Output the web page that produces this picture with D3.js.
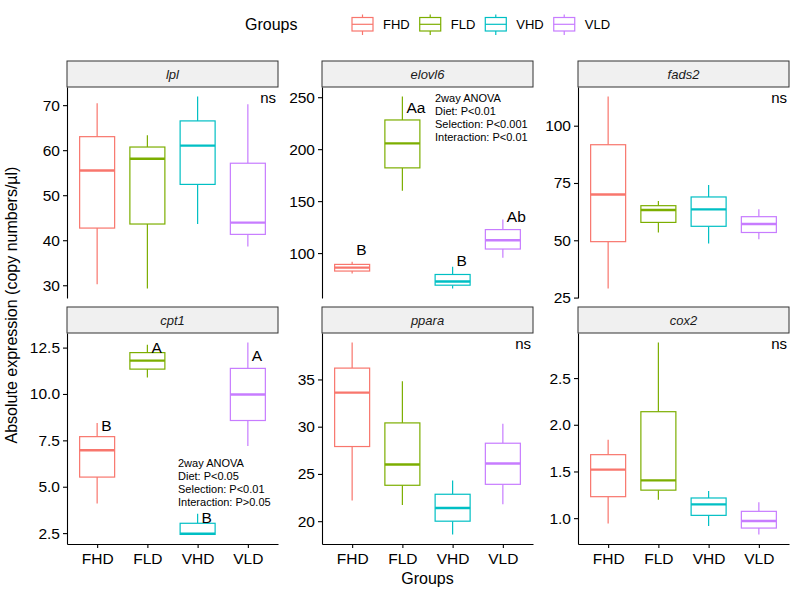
<!DOCTYPE html>
<html>
<head>
<meta charset="utf-8">
<script src="https://cdn.jsdelivr.net/npm/d3@7"></script>
<style>
  body { margin: 0; background: #fff; }
  text { font-family: "Liberation Sans", Arial, sans-serif; fill: #000; }
</style>
</head>
<body>
<script>
// groups + colours (ggplot default hue)
const groups = ["FHD", "FLD", "VHD", "VLD"];
const groupColors = ["#F8766D", "#7CAE00", "#00BFC4", "#C77CFF"];
const genes = ["lpl", "elovl6", "fads2", "cpt1", "ppara", "cox2"];

// per group: [lower whisker, q1, median, q3, upper whisker]
const lplStats    = [[30.2, 42.7, 55.5, 63.0, 70.4], [29.3, 43.6, 58.1, 60.7, 63.3], [43.6, 52.4, 61.0, 66.5, 71.9], [38.6, 41.3, 43.9, 57.1, 70.2]];
const elovl6Stats = [[80.4, 82.7, 86.0, 89.1, 91.7], [159.9, 182.0, 205.6, 228.1, 250.6], [66.0, 69.1, 72.7, 79.4, 86.9], [95.6, 103.9, 112.3, 122.6, 132.2]];
const fads2Stats  = [[29.0, 49.4, 70.0, 91.7, 112.7], [53.4, 57.8, 63.2, 65.1, 67.1], [48.6, 56.1, 63.5, 68.9, 74.1], [50.4, 53.4, 57.1, 60.3, 63.5]];
const cpt1Stats   = [[4.09, 5.52, 6.97, 7.70, 8.43], [10.89, 11.34, 11.80, 12.23, 12.66], [2.43, 2.43, 2.47, 3.03, 3.55], [7.20, 8.57, 9.97, 11.38, 12.77]];
const pparaStats  = [[22.2, 27.9, 33.6, 36.2, 38.9], [21.7, 23.8, 26.0, 30.4, 34.8], [18.6, 20.0, 21.4, 22.85, 24.3], [21.8, 23.9, 26.1, 28.25, 30.3]];
const cox2Stats   = [[0.944, 1.23, 1.52, 1.68, 1.84], [1.198, 1.30, 1.405, 2.14, 2.88], [0.915, 1.03, 1.148, 1.216, 1.29], [0.826, 0.894, 0.969, 1.073, 1.17]];

// y tick values
const lplTicks    = [30, 40, 50, 60, 70];
const elovl6Ticks = [100, 150, 200, 250];
const fads2Ticks  = [25, 50, 75, 100];
const cpt1Ticks   = [2.5, 5, 7.5, 10, 12.5];
const pparaTicks  = [20, 25, 30, 35];
const cox2Ticks   = [1, 1.5, 2, 2.5];

// significance letters and the value they sit at
const elovl6Letters  = ["B", "Aa", "B", "Ab"];
const elovl6LetterY  = [103.9, 240.4, 92.6, 135.0];
const cpt1Letters    = ["B", "A", "B", "A"];
const cpt1LetterY    = [8.29, 12.5, 3.33, 12.08];

const elovl6Anova = ["2way ANOVA", "Diet: P<0.01", "Selection: P<0.001", "Interaction: P<0.01"];
const cpt1Anova   = ["2way ANOVA", "Diet: P<0.05", "Selection: P<0.01", "Interaction: P>0.05"];

const panels = [
  {gene: "lpl",    stats: lplStats,    ticks: lplTicks,    fmt: "d",   ns: true},
  {gene: "elovl6", stats: elovl6Stats, ticks: elovl6Ticks, fmt: "d",   letters: elovl6Letters, letterY: elovl6LetterY, anova: elovl6Anova, anovaX: 435, anovaDy: 11},
  {gene: "fads2",  stats: fads2Stats,  ticks: fads2Ticks,  fmt: "d",   ns: true},
  {gene: "cpt1",   stats: cpt1Stats,   ticks: cpt1Ticks,   fmt: ".1f", letters: cpt1Letters, letterY: cpt1LetterY, anova: cpt1Anova, anovaX: 178, anovaDy: 130},
  {gene: "ppara",  stats: pparaStats,  ticks: pparaTicks,  fmt: "d",   ns: true},
  {gene: "cox2",   stats: cox2Stats,   ticks: cox2Ticks,   fmt: ".1f", ns: true}
];

const W = 797, H = 591;
const colX = [67, 322, 578], panelW = 211;
const stripTop = [61, 307], stripH = 26, plotH = 211;
const boxW = 35;

const svg = d3.select("body").append("svg")
  .attr("width", W).attr("height", H);
svg.append("rect").attr("width", W).attr("height", H).attr("fill", "#fff");

panels.forEach((p, i) => {
  const col = i % 3, row = Math.floor(i / 3);
  const px = colX[col], top = stripTop[row] + stripH;

  const x = d3.scalePoint().domain(groups).range([px, px + panelW]).padding(0.6);
  const all = p.stats.flat();
  const lo = d3.min(all), hi = d3.max(all), pad = (hi - lo) * 0.05;
  const y = d3.scaleLinear().domain([lo - pad, hi + pad]).range([top + plotH, top]);

  const g = svg.append("g");

  // strip
  g.append("rect")
    .attr("x", px).attr("y", stripTop[row])
    .attr("width", panelW).attr("height", stripH)
    .attr("fill", "#f0f0f0").attr("stroke", "#333").attr("stroke-width", 1);
  g.append("text")
    .attr("x", px + panelW / 2).attr("y", stripTop[row] + stripH / 2 + 4.5)
    .attr("text-anchor", "middle")
    .style("font-size", "13px").style("font-style", "italic")
    .style("fill", "#1a1a1a")
    .text(p.gene);

  // y axis
  const ya = g.append("g")
    .attr("transform", `translate(${px},0)`)
    .call(d3.axisLeft(y).tickValues(p.ticks).tickSize(4).tickSizeOuter(0)
      .tickPadding(3).tickFormat(d3.format(p.fmt)));
  ya.selectAll("text").style("font-size", "15.5px").attr("fill", "#000");
  ya.selectAll("line, path").attr("stroke", "#000").attr("stroke-width", 1.1);

  // x axis only on bottom row
  if (row === 1) {
    const xa = g.append("g")
      .attr("transform", `translate(0,${top + plotH})`)
      .call(d3.axisBottom(x).tickSize(4).tickSizeOuter(0).tickPadding(5));
    xa.selectAll("text").style("font-size", "15.5px").attr("fill", "#000");
    xa.selectAll("line, path").attr("stroke", "#000").attr("stroke-width", 1.1);
  }

  // boxes
  p.stats.forEach((s, k) => {
    const cx = x(groups[k]), c = groupColors[k];
    const b = g.append("g").attr("stroke", c).attr("fill", "none");
    b.append("line").attr("x1", cx).attr("x2", cx)
      .attr("y1", y(s[4])).attr("y2", y(s[3])).attr("stroke-width", 1.2);
    b.append("line").attr("x1", cx).attr("x2", cx)
      .attr("y1", y(s[1])).attr("y2", y(s[0])).attr("stroke-width", 1.2);
    b.append("rect")
      .attr("x", cx - boxW / 2).attr("y", y(s[3]))
      .attr("width", boxW).attr("height", y(s[1]) - y(s[3]))
      .attr("fill", "#fff").attr("stroke-width", 1.2);
    b.append("line")
      .attr("x1", cx - boxW / 2).attr("x2", cx + boxW / 2)
      .attr("y1", y(s[2])).attr("y2", y(s[2])).attr("stroke-width", 2.4);
  });

  if (p.ns) {
    g.append("text")
      .attr("x", px + panelW - 2).attr("y", top + 16)
      .attr("text-anchor", "end").style("font-size", "15px")
      .text("ns");
  }

  if (p.letters) {
    p.letters.forEach((l, k) => {
      g.append("text")
        .attr("x", x(groups[k]) + 4).attr("y", y(p.letterY[k]) + 5.5)
        .style("font-size", "15.5px")
        .text(l);
    });
  }

  if (p.anova) {
    p.anova.forEach((t, k) => {
      g.append("text")
        .attr("x", p.anovaX).attr("y", top + p.anovaDy + 4 + k * 13)
        .style("font-size", "11px")
        .text(t);
    });
  }
});

// axis titles
svg.append("text")
  .attr("transform", "translate(17,305) rotate(-90)")
  .attr("text-anchor", "middle").style("font-size", "16px")
  .text("Absolute expression (copy numbers/µl)");
svg.append("text")
  .attr("x", colX[1] + panelW / 2).attr("y", 584)
  .attr("text-anchor", "middle").style("font-size", "16px")
  .text("Groups");

// legend
const leg = svg.append("g");
leg.append("text").attr("x", 245).attr("y", 30).style("font-size", "16px").text("Groups");
let lx = 352;
groups.forEach((gname, k) => {
  const c = groupColors[k];
  const key = leg.append("g").attr("stroke", c).attr("fill", "none").attr("stroke-width", 1.2);
  key.append("line").attr("x1", lx + 10.5).attr("x2", lx + 10.5).attr("y1", 14.5).attr("y2", 35);
  key.append("rect").attr("x", lx).attr("y", 17.5).attr("width", 21).attr("height", 13.5).attr("fill", "#fff");
  key.append("line").attr("x1", lx).attr("x2", lx + 21).attr("y1", 24.3).attr("y2", 24.3);
  const t = leg.append("text").attr("x", lx + 31).attr("y", 29).style("font-size", "13px").text(gname);
  lx = lx + 31 + t.node().getComputedTextLength() + 10;
});
</script>
</body>
</html>
